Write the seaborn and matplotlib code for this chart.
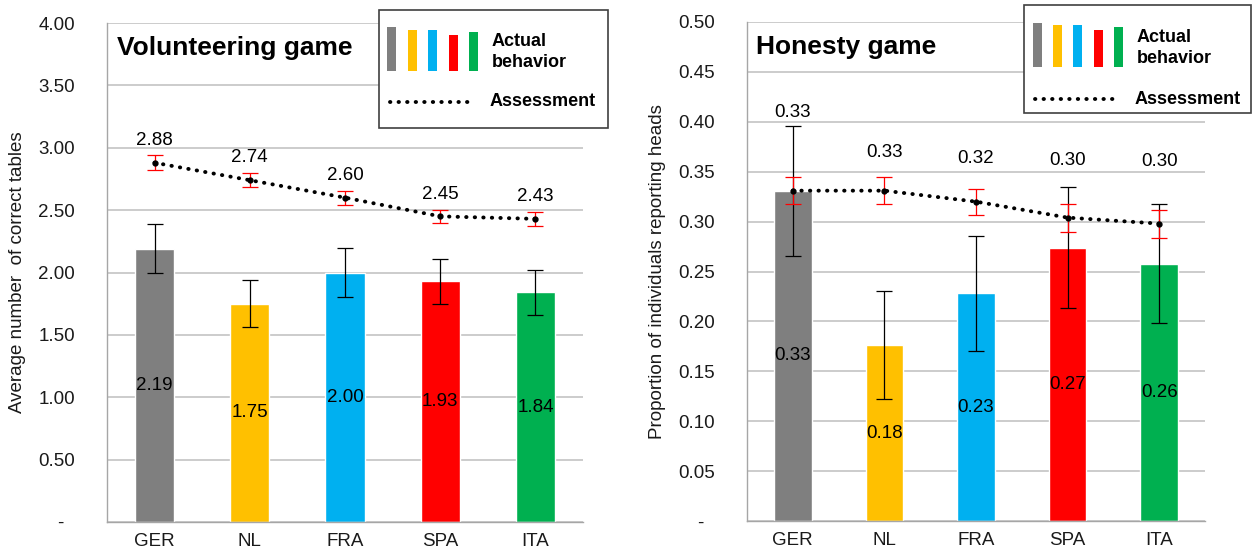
import numpy as np
import matplotlib
matplotlib.use("Agg")
import matplotlib.pyplot as plt
import seaborn as sns
from matplotlib.patches import Rectangle
from matplotlib.ticker import FuncFormatter

# ---------------- data ----------------
countries = ["GER", "NL", "FRA", "SPA", "ITA"]
colors = ["#7F7F7F", "#FFC000", "#00B0F0", "#FF0000", "#00B050"]

vol_actual = [2.19, 1.75, 2.00, 1.93, 1.84]
vol_actual_err = [0.195, 0.19, 0.195, 0.18, 0.18]
vol_assess = [2.88, 2.74, 2.60, 2.45, 2.43]
vol_assess_err = [0.06, 0.055, 0.055, 0.055, 0.055]

hon_actual = [0.331, 0.176, 0.228, 0.274, 0.258]
hon_actual_err = [0.065, 0.054, 0.058, 0.061, 0.060]
hon_assess = [0.331, 0.331, 0.320, 0.304, 0.298]
hon_assess_err = [0.0135, 0.0135, 0.013, 0.014, 0.014]

vol_ticks = [0, 0.5, 1.0, 1.5, 2.0, 2.5, 3.0, 3.5, 4.0]
hon_ticks = [0, 0.05, 0.10, 0.15, 0.20, 0.25, 0.30, 0.35, 0.40, 0.45, 0.50]

# label layout (positions of assessment value labels)
vol_lab_offset_pt = 16
hon_lab_y = [0.409, 0.369, 0.363, 0.361, 0.360]

# ---------------- style ----------------
sns.set_style("white")
plt.rcParams["font.family"] = ["Liberation Sans", "DejaVu Sans"]

W, H = 1253, 558
fig = plt.figure(figsize=(W / 100, H / 100), dpi=100)

FS = 13.5
GRID = "#BEBEBE"
SPINE = "#A6A6A6"
LABX = {"Volunteering game": 26, "Honesty game": 666}


def fmt(v, p):
    return "-  " if abs(v) < 1e-9 else f"{v:.2f}"


def panel(rect, actual, aerr, assess, serr, ticks, title, ylabel,
          lab_offset=None, lab_y=None):
    ax = fig.add_axes(rect)
    x = np.arange(len(countries))
    sns.barplot(x=countries, y=actual, hue=countries, palette=colors,
                saturation=1, width=0.41, legend=False, ax=ax, zorder=2)
    ax.errorbar(x, actual, yerr=aerr, fmt="none", ecolor="black",
                elinewidth=0.9, capsize=5.5, capthick=0.9, zorder=3)
    ax.errorbar(x, assess, yerr=serr, fmt="none", ecolor="#FF0000",
                elinewidth=0.9, capsize=5.5, capthick=0.9, zorder=4)
    ax.plot(x, assess, color="black", lw=2.8, linestyle=(0, (0.1, 2.1)),
            dash_capstyle="round", zorder=5)
    ax.plot(x, assess, "o", color="black", ms=3.5, zorder=6)

    for i, v in enumerate(actual):
        ax.text(i, v / 2, f"{v:.2f}", ha="center", va="center",
                fontsize=FS, color="black", zorder=7)
    for i, v in enumerate(assess):
        if lab_y is None:
            ax.annotate(f"{v:.2f}", (i, v), xytext=(0, lab_offset),
                        textcoords="offset points", ha="center", va="center",
                        fontsize=FS, color="black")
        else:
            ax.text(i, lab_y[i], f"{v:.2f}", ha="center", va="center",
                    fontsize=FS, color="black")

    ax.set_xlim(-0.5, len(countries) - 0.5)
    ax.set_ylim(ticks[0], ticks[-1])
    ax.set_yticks(ticks)
    ax.yaxis.set_major_formatter(FuncFormatter(fmt))
    ax.yaxis.grid(True, color=GRID, lw=1.1)
    ax.xaxis.grid(False)
    ax.set_axisbelow(True)
    ax.set_xticks(np.arange(-0.5, len(countries), 1), minor=True)
    ax.tick_params(axis="y", length=0, pad=23, labelsize=FS, labelcolor="#1a1a1a")
    ax.tick_params(axis="x", which="major", length=0, pad=8, labelsize=FS,
                   labelcolor="#1a1a1a")
    ax.tick_params(axis="x", which="minor", length=5, width=1, color=SPINE,
                   direction="out")
    for s in ["top", "right"]:
        ax.spines[s].set_visible(False)
    for s in ["left", "bottom"]:
        ax.spines[s].set_color(SPINE)
        ax.spines[s].set_linewidth(1.0)
    ax.set_xlabel("")
    ax.set_ylabel(ylabel, fontsize=FS, color="#1a1a1a")
    ax.yaxis.set_label_coords(-(rect[0] * W - LABX[title]) / (rect[2] * W), 0.5)
    ax.text(0.02, 0.95, title, transform=ax.transAxes, ha="left", va="center",
            fontsize=19, fontweight="bold", color="black")
    return ax


ax1 = panel([107 / W, 36 / H, 476 / W, 499 / H], vol_actual, vol_actual_err,
            vol_assess, vol_assess_err, vol_ticks, "Volunteering game",
            "Average number  of correct tables", lab_offset=vol_lab_offset_pt)
ax2 = panel([747 / W, 37 / H, 458 / W, 499 / H], hon_actual, hon_actual_err,
            hon_assess, hon_assess_err, hon_ticks, "Honesty game",
            "Proportion of individuals reporting heads", lab_y=hon_lab_y)


def legend_box(x0, y0, x1, y1, bars, text_x, line_y, line_x0, line_x1, act_y):
    lax = fig.add_axes([x0 / W, 1 - y1 / H, (x1 - x0) / W, (y1 - y0) / H])
    lax.set_xlim(x0, x1)
    lax.set_ylim(y1, y0)
    lax.axis("off")
    lax.add_patch(Rectangle((x0, y0), x1 - x0, y1 - y0, facecolor="white",
                            edgecolor="#404040", lw=1.2, clip_on=False))
    for (bx, by0, by1), c in zip(bars, colors):
        lax.add_patch(Rectangle((bx, by0), 9, by1 - by0, facecolor=c,
                                edgecolor="none"))
    lax.text(text_x, act_y, "Actual\nbehavior", ha="left", va="center",
             fontsize=13, fontweight="bold", color="black", linespacing=1.25)
    lax.plot([line_x0, line_x1], [line_y, line_y], color="black", lw=2.8,
             linestyle=(0, (0.1, 2.1)), dash_capstyle="round")
    lax.text(text_x - 2, line_y, "Assessment", ha="left", va="center",
             fontsize=13, fontweight="bold", color="black")
    lax.set_zorder(10)


legend_box(379, 10, 608, 128,
           [(387, 27, 71), (408, 30, 71), (428, 30, 71), (449, 35, 71), (469, 32, 71)],
           492, 102, 390, 470, 52)
legend_box(1024, 5, 1251, 113,
           [(1033, 23, 67), (1053, 25, 67), (1073, 25, 67), (1094, 30, 67), (1114, 27, 67)],
           1137, 99, 1035, 1117, 48)

fig.savefig("out.png", dpi=100)
